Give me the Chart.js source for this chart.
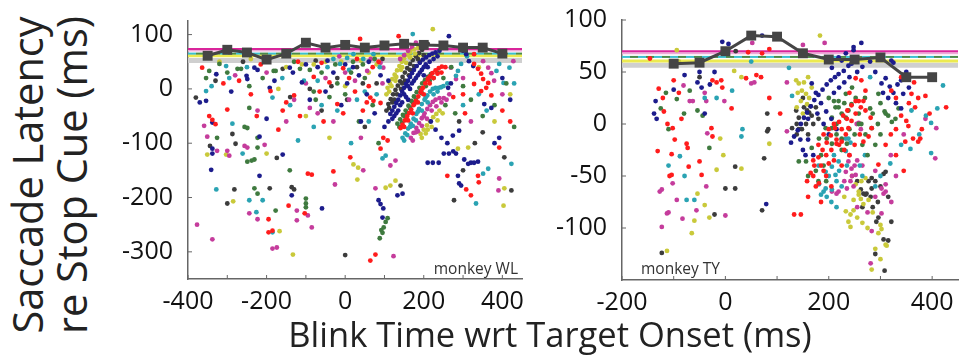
<!DOCTYPE html>
<html>
<head>
<meta charset="utf-8">
<script src="https://cdn.jsdelivr.net/npm/chart.js@4.4.1/dist/chart.umd.min.js"></script>
<style>
  body { margin: 0; background: #fff; width: 965px; height: 360px; overflow: hidden; position: relative; font-family: 'Open Sans', sans-serif; color: #222; }
  .box { position: absolute; top: 0; height: 320px; }
  #leftBox { left: 100px; width: 440px; }
  #rightBox { left: 545px; width: 420px; }
  .ytitle { position: absolute; font-size: 41.5px; white-space: nowrap; line-height: 1; transform: translate(-50%, -50%) rotate(-90deg); }
  .xtitle { position: absolute; font-size: 34.5px; white-space: nowrap; line-height: 1; transform: translate(-50%, -50%); }
  .tag { position: absolute; font-size: 15.5px; color: #333; white-space: nowrap; line-height: 1; }
</style>
</head>
<body>
<div class="box" id="leftBox"><canvas id="left"></canvas></div>
<div class="box" id="rightBox"><canvas id="right"></canvas></div>
<div class="ytitle" style="left:28px; top:175px;">Saccade Latency</div>
<div class="ytitle" style="left:72px; top:175px;">re Stop Cue (ms)</div>
<div class="xtitle" style="left:550px; top:334px;">Blink Time wrt Target Onset (ms)</div>
<div class="tag" style="right:447px; top:261px;">monkey WL</div>
<div class="tag" style="left:641px; top:261px;">monkey TY</div>
<script>
// axis ranges and labelled ticks
const leftX = [-400, 450];
const leftY = [-350, 125];
const rightX = [-200, 450];
const rightY = [-150, 100];
const leftXLabels = [-400, -200, 0, 200, 400];
const rightXLabels = [-200, 0, 200, 400];
const leftYLabels = [100, 0, -100, -200, -300];
const rightYLabels = [100, 50, 0, -50, -100];

// reference levels: magenta, pink, cyan/green dashed, yellow, gray band
const leftLevels = [73.5, 70.5, 65, 61, 52.5];
const rightLevels = [70, 68, 64.5, 60.5, 56.5];

// binned means (gray squares)
const leftBinX = [-350, -300, -250, -200, -150, -100, -50, 0, 50, 100, 150, 200, 250, 300, 350, 400];
const leftBinY = [61, 72, 67, 54, 65, 85, 76, 81, 76, 80, 83, 81, 80, 76, 76, 65];
const rightBinX = [-100, -50, 0, 50, 100, 150, 200, 250, 300, 350, 400];
const rightBinY = [58, 59, 70, 85, 84, 68, 62, 62, 64, 45, 45];

// monkey WL trials [blink time, latency]
const leftRed = [[-364,39],[-346,-50],[-338,-57],[-330,-65],[-300,-38],[-270,15],[-240,-10],[-225,-50],[-195,-240],[-195,-264],[-185,-261],[-190,-4],[-170,-75],[-159,-40],[-150,-25],[-144,-215],[-130,-12],[-115,-50],[-103,-229],[-95,-156],[-85,-158],[-80,22],[-65,-5],[-55,-60],[-40,12],[-30,-152],[-20,-28],[-5,-45],[10,20],[13,-126],[25,-5],[38,92],[45,-40],[60,5],[64,-316],[77,-305],[64,-16],[72,-22],[90,-26],[97,-90],[108,-95],[90,-110],[136,97],
  [-310,10],[-215,45],[-120,50],[-60,48],[-5,38],[30,55],[70,40],[85,50],[55,-25],
  [141,-72],[146,-66],[152,-58],[158,-50],[163,-44],[168,-38],[174,-30],[180,-22],[186,-14],[192,-6],[198,2],[204,10],[210,17],[216,23],[222,29],[230,34],[238,38],[246,41],[156,-56],[176,-28],[194,-2],[212,20],
  [150,-70],[160,-58],[172,-45],[185,-25],[200,-10],[215,10],[225,20],[235,28],[245,30],[255,40],
  [260,-160],[275,-15],[300,-10],[308,-185],[320,-196],[328,9],[328,46],[328,64],[338,37],[338,-160],[340,-172],[346,28],[346,-4],[351,18],[359,2],[364,11],[305,-45],[392,-108],[372,-12],[400,-40],[420,-60]];
const leftNavy = [[-370,-25],[-354,-22],[-338,-62],[-338,-110],[-338,-119],[-341,-149],[-328,27],[-251,24],[-249,18],[-231,39],[-223,35],[-218,-88],[-218,-160],[-200,-55],[-192,2],[-159,-121],[-141,39],[-133,30],[-136,-196],[-110,12],[-90,-20],[-70,40],[-59,-220],[-50,-5],[-30,30],[-10,-30],[5,10],[20,40],[40,-60],[55,-10],[75,-45],[85,-205],[90,-212],[95,-237],[97,-220],[100,-70],[110,15],[133,-196],[146,-193],
  [-290,-5],[-180,15],[-100,45],[-45,52],[0,45],[35,25],[60,50],[90,25],
  [115,-46],[120,-40],[125,-33],[130,-26],[135,-20],[140,-12],[145,-5],[150,2],[155,9],[160,15],[165,22],[170,29],[175,35],[182,42],[190,48],[198,54],[206,58],[214,62],[222,65],[230,67],[125,-50],[135,-40],[145,-25],[155,-15],[165,0],[175,15],[185,25],[195,35],[205,45],[215,50],[160,-20],[200,25],
  [110,-60],[120,-55],[130,-45],[140,-30],[150,-10],[160,5],[170,10],[180,20],[190,30],[200,40],[210,40],[225,55],[235,60],[240,70],
  [218,-60],[230,-75],[245,-90],[260,-100],[275,-115],[290,-77],[274,-86],[303,-130],[210,-136],[223,-136],[238,-136],[251,-119],[264,-119],[282,-119],[287,-160],[290,-174],[295,-178],[313,-138],[320,-136],[328,-136],[338,-134],
  [264,97],[300,70],[308,64],[315,51],[326,42],[269,10],[262,2],[354,-28],[372,-35],[392,-90],[380,-100],[400,20],[420,-20]];
const leftGreen = [[-346,33],[-354,20],[-320,46],[-274,37],[-265,37],[-244,5],[-256,-70],[-249,-72],[-244,-35],[-326,-90],[-249,-134],[-238,-132],[-231,-130],[-223,-108],[-223,-90],[-231,-183],[-223,-193],[-182,33],[-177,33],[-177,-224],[-141,-150],[-115,37],[-100,-202],[-100,-211],[-100,-218],[-90,35],[-75,-20],[-60,30],[-40,-15],[-25,45],[0,-10],[15,30],[35,-60],[50,20],[70,-30],[85,-100],[92,-260],[95,-265],[98,-255],[103,-245],[108,-238],[88,-275],
  [-300,30],[-210,20],[-130,50],[-80,-5],[-20,10],[20,50],[45,45],[75,55],
  [133,-64],[140,-56],[147,-48],[154,-40],[161,-31],[168,-22],[175,-14],[182,-6],[189,2],[196,10],[203,16],[210,22],[218,27],[150,-50],[172,-25],[192,0],
  [138,-70],[145,-62],[158,-45],[165,-35],[180,-20],[195,-8],[205,5],[215,15],[225,20],[235,30],
  [255,-30],[280,-45],[300,5],[320,-20],[350,-50],[380,-30],[410,10],[430,-70],[250,20],[270,40]];
const leftTeal = [[-303,42],[-295,20],[-354,-4],[-287,-64],[-328,-185],[-261,-119],[-244,-205],[-210,-205],[-226,-227],[-185,-16],[-185,-264],[-140,-30],[-120,-95],[-105,15],[-80,-70],[-60,-30],[-45,40],[-13,46],[-20,-40],[5,57],[15,-100],[21,64],[30,-20],[46,55],[60,-60],[72,64],[80,-10],[95,-128],[103,-123],[172,101],
  [-340,5],[-250,40],[-160,20],[-70,15],[-30,55],[10,35],[50,-5],[88,40],
  [146,-90],[153,-82],[160,-73],[167,-64],[174,-55],[181,-46],[188,-37],[195,-28],[202,-20],[209,-12],[216,-5],[223,0],[230,2],[238,2],[244,3],[165,-70],[185,-42],[205,-16],
  [150,-95],[158,-85],[172,-68],[180,-58],[195,-40],[210,-25],[225,-10],[235,-5],[250,5],[260,10],
  [282,24],[287,33],[295,46],[333,-211],[351,-156],[364,-147],[385,33],[403,11],[392,46],[418,39],[423,-138],[360,-40],[300,-30],[340,-10],[310,60],[430,10]];
const leftMagenta = [[-359,-68],[-351,-88],[-326,-114],[-377,-250],[-338,-277],[-300,-114],[-295,-123],[-256,-105],[-249,-108],[-223,-40],[-244,-229],[-223,-240],[-205,-103],[-185,-294],[-174,-292],[-123,-224],[-123,-242],[-95,-233],[-85,-255],[-130,-20],[-100,10],[-70,-45],[-50,20],[-26,-176],[-30,-60],[0,30],[10,-20],[46,-150],[56,33],[77,-183],[90,48],[97,39],[115,-141],[128,-132],[123,-308],[40,-90],
  [-280,25],[-200,30],[-150,-60],[-90,-35],[-15,60],[25,15],[65,55],[95,10],
  [167,-90],[174,-81],[181,-72],[188,-63],[195,-54],[202,-45],[209,-37],[216,-30],[223,-24],[230,-20],[240,-17],[251,-17],[180,-80],[200,-50],
  [172,-95],[185,-78],[195,-68],[208,-55],[220,-40],[232,-32],[245,-25],[258,-20],[265,-10],
  [140,55],[150,62],[160,70],[170,78],[180,85],
  [269,39],[282,18],[351,51],[364,39],[372,29],[379,15],[392,-165],[390,-187],[428,51],[320,-60],[400,-10],[300,20]];
const leftYellow = [[-351,-121],[-303,-121],[-285,-207],[-200,-119],[-167,-262],[-133,-305],[-150,40],[-100,-50],[-80,45],[-40,-90],[-10,50],[21,-139],[33,-145],[31,-167],[60,30],[103,-182],[115,-178],[128,-169],
  [-320,50],[-240,55],[-170,0],[-110,45],[-50,50],[0,5],[40,52],[80,45],
  [108,2],[114,10],[120,18],[126,26],[132,34],[138,42],[144,50],[150,56],[158,62],[166,68],[175,73],[185,75],[112,-5],[128,15],[145,40],
  [105,-10],[118,5],[130,22],[142,35],[155,48],[165,58],[178,65],
  [192,-83],[200,-75],[208,-67],[216,-60],[224,-52],[232,-46],[240,-40],[210,-75],
  [195,-90],[205,-82],[220,-70],[235,-58],[248,-45],
  [223,110],[287,-110],[313,-108],[405,-183],[403,-215],[340,40],[380,-60],[420,-10]];
const leftDark = [[-380,-16],[-344,-105],[-287,-83],[-279,-101],[-282,-185],[-300,-211],[-192,-183],[-174,-127],[-159,37],[-136,-181],[-130,-185],[-90,0],[-60,-40],[-20,20],[0,-306],[30,40],[50,-70],[80,10],[141,-178],
  [-330,15],[-260,50],[-140,-15],[-75,52],[-35,5],[5,-20],[45,10],[95,55],
  [110,-28],[116,-19],[122,-10],[128,-2],[134,6],[140,14],[146,22],[152,30],[158,38],[165,46],[172,53],[180,60],[188,66],[196,72],[204,78],[210,83],[125,-20],[145,10],[165,35],[185,55],
  [105,-40],[112,-35],[120,-25],[132,-10],[142,0],[152,15],[162,25],[175,42],[190,50],[200,62],
  [277,-205],[405,-126],[423,-187],[300,-150],[290,-60],[350,-80],[330,-100]];

// monkey TY trials [blink time, latency]
const rightRed = [[-146,63],[-129,34],[-121,25],[-112,0],[-102,-4],[-100,42],[-85,5],[-75,-19],[-73,-23],[-71,-41],[-108,-50],[-104,-49],[-131,-26],[-104,-29],[-98,-15],[-50,-36],[-46,-49],[-27,-4],[-25,-12],[-25,42],[-17,40],[-8,42],[-6,35],[12,15],[40,44],[44,69],[60,47],[69,45],[71,68],[85,25],[85,72],[106,10],[-119,12],[-90,30],
  [158,-55],[165,-47],[172,-40],[180,-32],[188,-25],[196,-18],[204,-11],[212,-4],[220,2],[228,8],[236,13],[244,18],[252,22],[258,22],[170,-50],[185,-40],[195,-30],[205,-25],[215,-15],[225,-5],[235,5],[190,-45],[200,-38],[180,-20],[175,-60],[195,-50],[210,-35],[220,-20],[146,-87],[181,-57],[133,-87],
  [190,-10],[200,-5],[210,0],[230,-25],[240,-30],[250,-20],[260,-10],[170,-35],[160,-70],[205,-60],[225,-40],[185,-75],[240,30],
  [252,44],[263,42],[271,32],[267,22],[262,16],[252,10],[244,3],[238,-4],[233,-10],[225,-17],[215,-19],[271,13],[281,6],[283,-4],[277,-12],[267,-17],
  [296,-39],[321,32],[330,25],[340,8],[350,3],[354,-2],[360,29],[373,25],[387,27],[367,16],[363,-14],[373,-17],[348,-17],[377,-14],[427,16],[300,64],[310,-20],[330,-30],[345,-45],[320,-10],[380,-5],[395,10],
  [330,-5],[355,20],[340,45],[365,40]];
const rightNavy = [[-135,22],[-133,5],[-138,10],[-100,33],[-79,47],[-54,40],[-46,35],[-50,50],[-21,50],[-30,38],[-6,79],[6,77],[71,85],[104,85],[79,-77],[-40,10],
  [127,-18],[133,-12],[140,-6],[146,0],[152,6],[158,11],[165,17],[172,23],[180,28],[188,33],[196,38],[204,42],[212,45],[219,48],[167,39],[175,30],[185,20],[195,12],[205,5],[215,-5],[150,-25],[160,-15],[170,-30],
  [178,10],[190,0],[200,-10],[210,30],[220,35],[230,40],[240,45],[255,50],[265,55],[160,5],[145,-15],[155,-30],
  [219,64],[225,61],[233,68],[238,56],[244,58],[252,64],[229,51],[206,54],[248,74],[248,71],[263,78],
  [302,39],[310,44],[318,36],[325,30],[333,38],[340,42],[344,29],[315,25],[321,61],[325,59],[305,30],[350,50],
  [330,20],[340,15],[355,35],[290,50],[280,60]];
const rightGreen = [[-94,24],[-69,32],[-54,13],[-44,8],[-31,-23],[-115,30],[-125,15],[-80,10],[-110,-5],
  [142,-36],[156,-36],[167,-23],[181,-14],[194,-4],[206,6],[213,16],[219,22],[233,29],[200,25],[210,22],[219,16],[225,10],[233,6],[238,13],[244,19],[252,25],[206,-4],[215,-10],[225,-14],[235,-19],[196,-14],[206,-19],[258,10],[263,0],[175,-45],[185,-30],[160,-50],[190,-40],
  [215,0],[225,-25],[240,-5],[250,-10],[265,-20],[275,-30],[285,10],[295,0],[180,-55],[195,-55],[230,20],[245,35],[270,25],[280,15],
  [258,0],[271,-10],[283,-4],[296,29],[300,20],[308,12],[315,8],[322,2],[329,5],[335,15],[310,10],[300,-10],[290,-20]];
const rightTeal = [[-88,-31],[-79,-50],[-75,-73],[-60,-73],[-17,25],[13,32],[33,-5],[31,-12],[123,54],[129,27],[-110,-40],[-40,25],[50,60],
  [233,-14],[242,-18],[233,-26],[219,-36],[206,-41],[213,-49],[194,-46],[181,-58],[185,-68],[194,-62],[196,-70],[206,-63],[190,-65],[225,-15],[238,-14],[200,-50],[210,-30],[220,-45],
  [215,-55],[225,-60],[235,-40],[205,-75],[215,-80],[180,-40],[260,-40],[265,-50],
  [319,-38],[358,-24],[398,-28],[360,13],[388,8],[398,1],[421,37],[290,-60],[300,-50],[270,-30],[280,45],[250,60],
  [340,-20],[375,-10],[410,15]];
const rightMagenta = [[-81,37],[-69,22],[-63,22],[-40,30],[-37,22],[-35,-9],[-2,22],[50,39],[56,40],[52,78],[119,40],[119,-7],[150,76],[192,78],[-102,-57],[-94,-73],[-123,-63],[-127,-65],[-113,-86],[-110,-85],[-123,-99],[-56,-83],[-37,-60],[-83,-91],[0,-88],
  [238,-36],[244,-43],[252,-49],[242,-55],[233,-46],[258,1],[219,-65],[206,-65],[302,-62],[310,-65],[215,-67],[254,0],[262,-5],[240,-30],[250,-40],[245,-50],
  [230,-55],[235,-62],[248,-60],[255,-35],[265,-40],[275,-85],[290,-70],[255,-80],
  [281,-134],[283,-103],[302,-86],[306,-67],[310,-58],[321,-75],[408,-4],[387,5],[406,-33],[290,-45],[330,-50],
  [320,-30],[345,-10]];
const rightYellow = [[-94,71],[-10,-14],[-4,-30],[31,-43],[-17,-44],[-54,-67],[-40,-78],[-60,-93],[-31,-90],[-65,-105],[-113,-122],[17,51],[31,45],[85,-19],[-90,60],
  [137,42],[142,39],[148,32],[156,29],[162,25],[167,35],[146,22],[158,19],[138,16],[183,85],[140,30],[152,40],[150,10],[160,45],
  [252,-58],[258,-65],[263,-55],[271,-52],[248,-73],[258,-68],[242,-99],[238,-94],[233,-84],[242,-87],[248,-83],[262,-72],[267,-77],[277,-73],[283,-140],[300,-97],[302,-101],[310,-116],[312,-117],[296,-105],
  [245,-50],[255,-90],[265,-95],[275,-100],[285,-85],[290,-120],[300,-130],[230,-70]];
const rightDark = [[-123,-124],[-21,-87],[0,-62],[19,-62],[19,-41],[71,-83],[75,-33],[81,-7],[83,-5],[81,10],[-50,45],[20,70],
  [137,13],[142,6],[152,16],[162,11],[167,8],[175,16],[129,-4],[142,-5],[138,-10],[156,0],[138,0],[148,-5],[158,13],[165,17],
  [150,25],[160,-10],[170,0],[180,5],
  [271,-68],[283,-62],[290,-55],[310,-46],[267,-67],[273,-67],[281,-70],[262,-63],[283,-52],[277,-55],[306,-48],[292,-94],[296,-90],[306,-111],[315,-112],[321,-94],[308,-141],
  [255,-55],[265,-80],[285,-80],[295,-75],[300,-60],[315,-70],[290,-125]];

const dotColors = ['#ff1c1c', '#1c1c8c', '#3f7a3f', '#2aa3b3', '#c53c9c', '#c9c93a', '#3c3c3c'];

function pts(arr) { return arr.map(p => ({ x: p[0], y: p[1] })); }

const inwardTicks = {
  id: 'inwardTicks',
  afterDraw(chart) {
    const { ctx, chartArea, scales } = chart;
    ctx.save();
    ctx.strokeStyle = '#666';
    ctx.lineWidth = 1;
    scales.x.ticks.forEach(t => {
      const px = scales.x.getPixelForValue(t.value);
      ctx.beginPath(); ctx.moveTo(px, chartArea.bottom); ctx.lineTo(px, chartArea.bottom - 4); ctx.stroke();
    });
    scales.y.ticks.forEach(t => {
      if (t.label === '') return;
      const py = scales.y.getPixelForValue(t.value);
      ctx.beginPath(); ctx.moveTo(chartArea.left, py); ctx.lineTo(chartArea.left + 4, py); ctx.stroke();
    });
    ctx.restore();
  }
};

function makePanel(id, groups, levels, binX, binY, xr, yr, xLabels, yLabels, yStep, axisW, padTop, xAxisH, padRight) {
  // first dataset is drawn on top in Chart.js
  const datasets = [{
    data: binX.map((x, i) => ({ x: x, y: binY[i] })), showLine: true, borderColor: '#454545', borderWidth: 3,
    pointStyle: 'rect', pointRadius: 7, pointBackgroundColor: '#454545', pointBorderWidth: 0
  }];
  groups.forEach((g, i) => datasets.push({
    data: pts(g), backgroundColor: dotColors[i], pointRadius: 2.4, pointBorderWidth: 0, pointHoverRadius: 2.4
  }));
  const lvlStyle = [
    { c: '#d9259b', w: 2, d: [], y: levels[0] },
    { c: '#eeaad8', w: 2, d: [], y: levels[1] },
    { c: '#3cc0d0', w: 2, d: [8, 8], y: levels[2], off: 0 },
    { c: '#4a8a4a', w: 2, d: [8, 8], y: levels[2], off: 8 },
    { c: '#ecea50', w: 3, d: [], y: levels[3] },
    { c: '#cfcfcf', w: 5, d: [], y: levels[4] }
  ];
  lvlStyle.forEach(s => datasets.push({
    data: [{ x: xr[0], y: s.y }, { x: xr[1], y: s.y }], showLine: true, borderColor: s.c, borderWidth: s.w,
    borderDash: s.d, borderDashOffset: s.off || 0, pointRadius: 0
  }));

  new Chart(document.getElementById(id), {
    type: 'scatter',
    data: { datasets: datasets },
    plugins: [inwardTicks],
    options: {
      responsive: true, maintainAspectRatio: false, animation: false,
      layout: { padding: { left: 0, right: padRight, top: padTop, bottom: 0 } },
      plugins: { legend: { display: false }, tooltip: { enabled: false } },
      scales: {
        x: {
          type: 'linear', min: xr[0], max: xr[1],
          afterFit: s => { s.height = xAxisH; s.paddingLeft = 0; s.paddingRight = 0; },
          grid: { display: false, drawTicks: false },
          border: { display: true, color: '#666', width: 1.5 },
          ticks: {
            stepSize: 100, autoSkip: false, maxRotation: 0, includeBounds: false, padding: 8,
            color: '#111', font: { family: 'Open Sans', size: 25 },
            callback: v => xLabels.includes(v) ? String(v) : ''
          }
        },
        y: {
          type: 'linear', min: yr[0], max: yr[1],
          afterFit: s => { s.width = axisW; s.paddingTop = 0; s.paddingBottom = 0; },
          grid: { display: false, drawTicks: false },
          border: { display: true, color: '#666', width: 1.5 },
          ticks: {
            stepSize: yStep, autoSkip: false, includeBounds: false, padding: 15,
            color: '#111', font: { family: 'Open Sans', size: 25 },
            callback: v => yLabels.includes(v) ? String(v) : ''
          }
        }
      }
    }
  });
}

makePanel('left', [leftRed, leftNavy, leftGreen, leftTeal, leftMagenta, leftYellow, leftDark],
  leftLevels, leftBinX, leftBinY, leftX, leftY, leftXLabels, leftYLabels, 100, 88, 21, 41, 18);
makePanel('right', [rightRed, rightNavy, rightGreen, rightTeal, rightMagenta, rightYellow, rightDark],
  rightLevels, rightBinX, rightBinY, rightX, rightY, rightXLabels, rightYLabels, 50, 77, 20, 40, 5);
</script>
</body>
</html>
